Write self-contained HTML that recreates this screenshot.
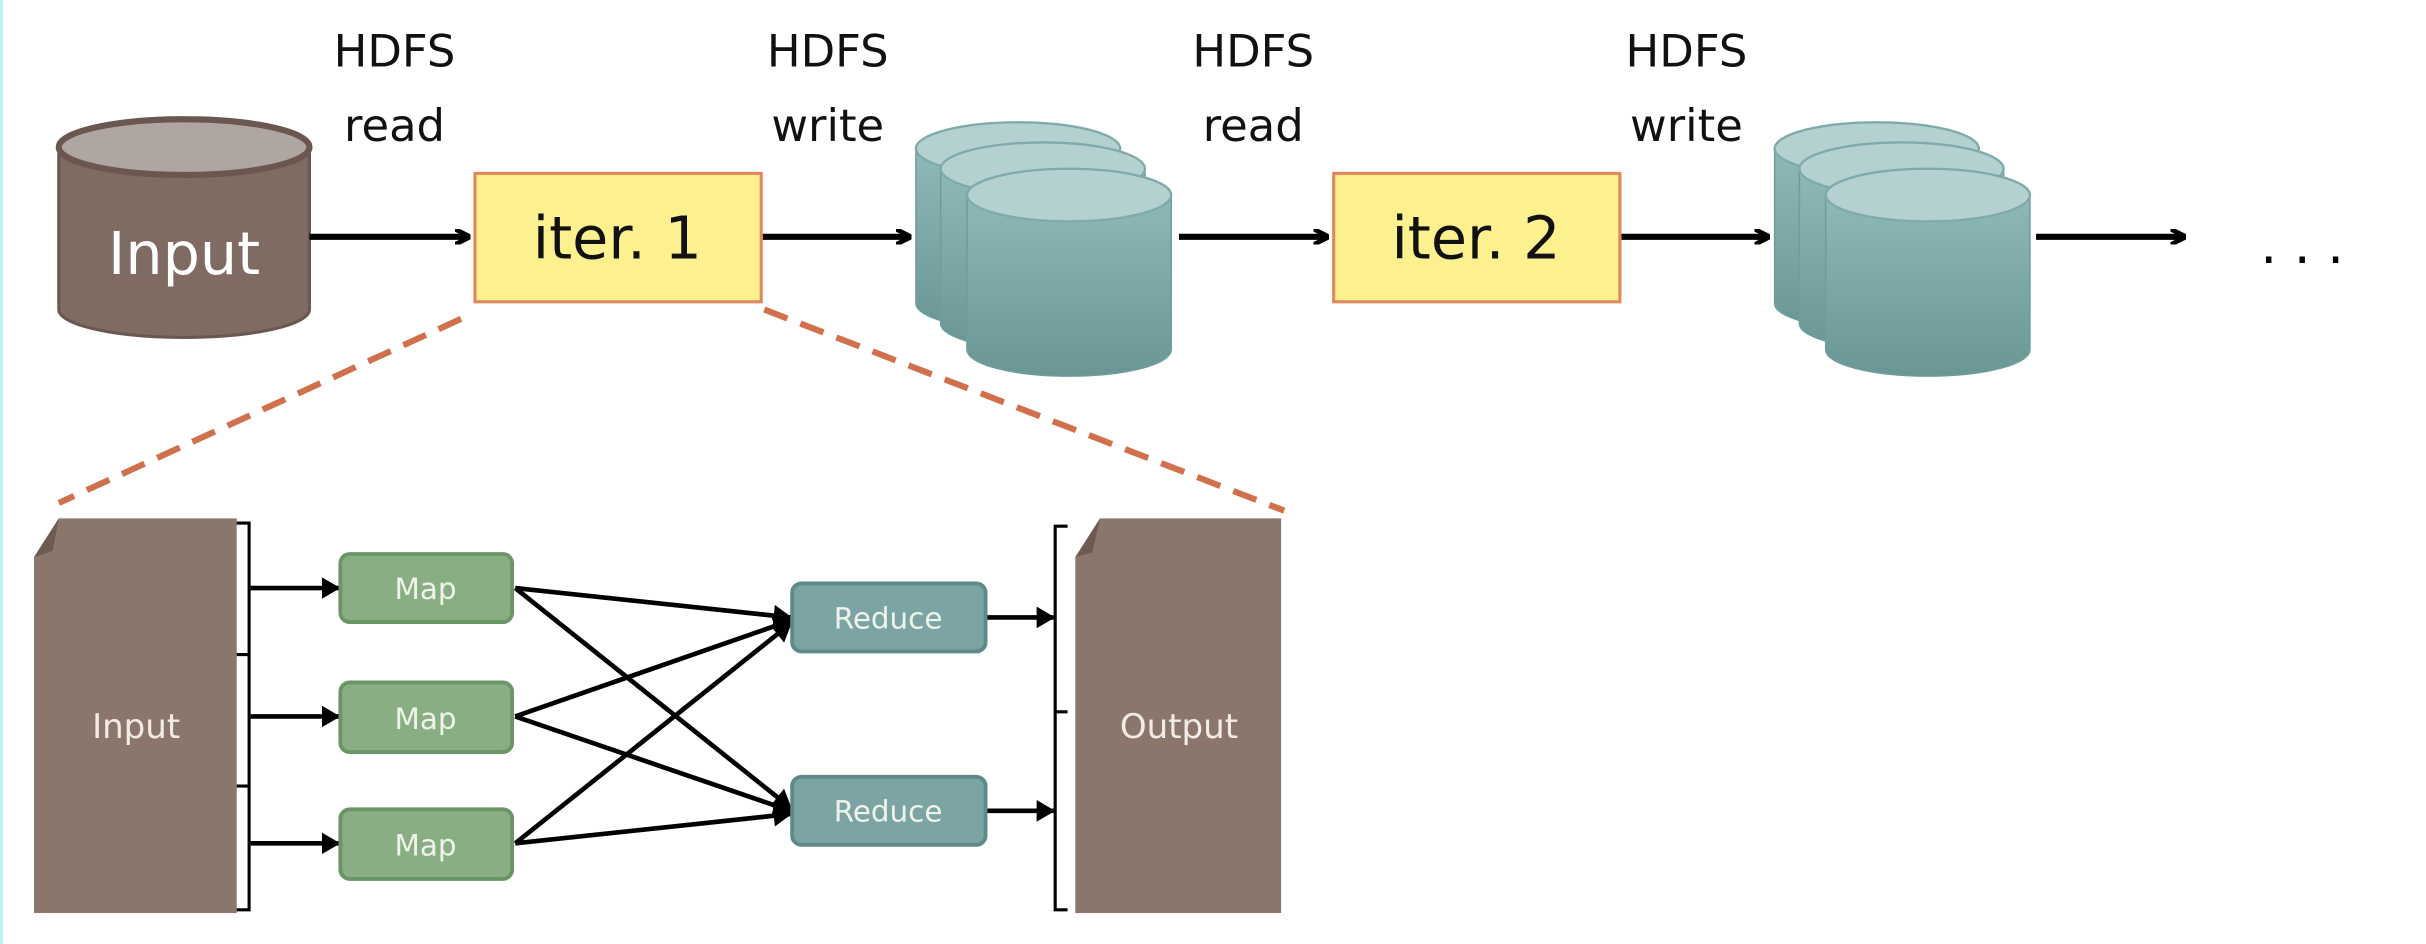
<!DOCTYPE html>
<html><head><meta charset="utf-8"><style>
html,body{margin:0;padding:0;background:#fff;}
svg{display:block;}
</style></head><body>
<svg width="2426" height="944" viewBox="0 0 1568 610" xmlns="http://www.w3.org/2000/svg" font-family="'DejaVu Sans','Liberation Sans',sans-serif">
<defs>
<linearGradient id="teal" x1="0" y1="0" x2="0" y2="1"><stop offset="0" stop-color="#8fb9b9"/><stop offset="1" stop-color="#6a9696"/></linearGradient>
<marker id="ah" markerWidth="10" markerHeight="10" refX="9" refY="5" orient="auto" markerUnits="userSpaceOnUse"><path d="M0,0 L10,5 L0,10" fill="none" stroke="#000" stroke-width="3"/></marker>
<marker id="tri" markerWidth="12" markerHeight="14" refX="11" refY="7" orient="auto" markerUnits="userSpaceOnUse"><path d="M0,0 L12,7 L0,14 Z" fill="#000"/></marker>
<g id="cyl">
<path d="M0,0 L0,100 A66,17 0 0 0 132,100 L132,0" fill="url(#teal)" stroke="#6f9c9c" stroke-width="1"/>
<ellipse cx="66" cy="0" rx="66" ry="17" fill="#b4d0d0" stroke="#7faaaa" stroke-width="1.5"/>
</g>
<g id="stack">
<use href="#cyl" x="0" y="100"/>
<use href="#cyl" x="16" y="113"/>
<use href="#cyl" x="33" y="130"/>
</g>
</defs>
<rect x="0" y="0" width="2" height="610" fill="#bfeef5"/>
<!-- top labels -->
<g font-size="29" fill="#111" text-anchor="middle">
<text x="255" y="43">HDFS</text><text x="255" y="91">read</text>
<text x="535" y="43">HDFS</text><text x="535" y="91">write</text>
<text x="810" y="43">HDFS</text><text x="810" y="91">read</text>
<text x="1090" y="43">HDFS</text><text x="1090" y="91">write</text>
</g>
<!-- input cylinder -->
<path d="M38,95 L38,200 A81,18 0 0 0 200,200 L200,95" fill="#7f6b62" stroke="#6a5850" stroke-width="2"/>
<ellipse cx="119" cy="95" rx="81" ry="18" fill="#b0a6a1" stroke="#6a5850" stroke-width="4"/>
<text x="119" y="177" font-size="38" fill="#fff" text-anchor="middle">Input</text>
<!-- arrows top -->
<g stroke="#000" stroke-width="4" marker-end="url(#ah)">
<line x1="200" y1="153" x2="303" y2="153"/>
<line x1="493" y1="153" x2="588" y2="153"/>
<line x1="762" y1="153" x2="858" y2="153"/>
<line x1="1048" y1="153" x2="1143" y2="153"/>
<line x1="1316" y1="153" x2="1412" y2="153"/>
</g>
<text x="1488" y="170" font-size="34" fill="#000" text-anchor="middle">. . .</text>
<!-- iter boxes -->
<rect x="307" y="112" width="185" height="83" fill="#fdf08e" stroke="#e0875c" stroke-width="2"/>
<text x="399" y="167" font-size="38" fill="#111" text-anchor="middle">iter. 1</text>
<rect x="862" y="112" width="185" height="83" fill="#fdf08e" stroke="#e0875c" stroke-width="2"/>
<text x="954" y="167" font-size="38" fill="#111" text-anchor="middle">iter. 2</text>
<!-- stacks -->
<use href="#stack" x="592" y="-4"/>
<use href="#stack" x="1147" y="-4"/>
<!-- dashed -->
<g stroke="#d0704c" stroke-width="4" stroke-dasharray="16 9">
<line x1="298" y1="206" x2="38" y2="325"/>
<line x1="494" y1="200" x2="830" y2="330"/>
</g>
<!-- bottom input doc -->
<path d="M38,335 L153,335 L153,590 L22,590 L22,360 Z" fill="#8b766b"/>
<path d="M22,360 L38,335 L34,356 Z" fill="#6d5b52"/>
<text x="88" y="477" font-size="22" fill="#f2ece6" text-anchor="middle">Input</text>
<path d="M153,338 L161,338 L161,588 L153,588 M153,423 L161,423 M153,508 L161,508" fill="none" stroke="#000" stroke-width="2"/>
<!-- output doc -->
<path d="M711,335 L828,335 L828,590 L695,590 L695,360 Z" fill="#8b766b"/>
<path d="M695,360 L711,335 L706,357 Z" fill="#6d5b52"/>
<text x="762" y="477" font-size="22" fill="#f2ece6" text-anchor="middle">Output</text>
<path d="M690,340 L682,340 L682,588 L690,588 M682,460 L690,460" fill="none" stroke="#000" stroke-width="2"/>
<!-- lines -->
<g stroke="#000" stroke-width="3" marker-end="url(#tri)">
<line x1="162" y1="380" x2="219" y2="380"/>
<line x1="162" y1="463" x2="219" y2="463"/>
<line x1="162" y1="545" x2="219" y2="545"/>
<line x1="333" y1="380" x2="511" y2="399"/>
<line x1="333" y1="380" x2="511" y2="522"/>
<line x1="333" y1="463" x2="511" y2="401"/>
<line x1="333" y1="463" x2="511" y2="524"/>
<line x1="333" y1="545" x2="511" y2="403"/>
<line x1="333" y1="545" x2="511" y2="526"/>
<line x1="638" y1="399" x2="681" y2="399"/>
<line x1="638" y1="524" x2="681" y2="524"/>
</g>
<!-- maps -->
<g fill="#8aae84" stroke="#6a9564" stroke-width="2.5">
<rect x="220" y="358" width="111" height="44" rx="6"/>
<rect x="220" y="441" width="111" height="45" rx="6"/>
<rect x="220" y="523" width="111" height="45" rx="6"/>
</g>
<g fill="#7ca4a4" stroke="#5f8a8a" stroke-width="2.5">
<rect x="512" y="377" width="125" height="44" rx="6"/>
<rect x="512" y="502" width="125" height="44" rx="6"/>
</g>
<g font-size="19" fill="#eef4ea" text-anchor="middle">
<text x="275" y="387">Map</text>
<text x="275" y="471">Map</text>
<text x="275" y="553">Map</text>
<text x="574" y="406">Reduce</text>
<text x="574" y="531">Reduce</text>
</g>
</svg>
</body></html>
